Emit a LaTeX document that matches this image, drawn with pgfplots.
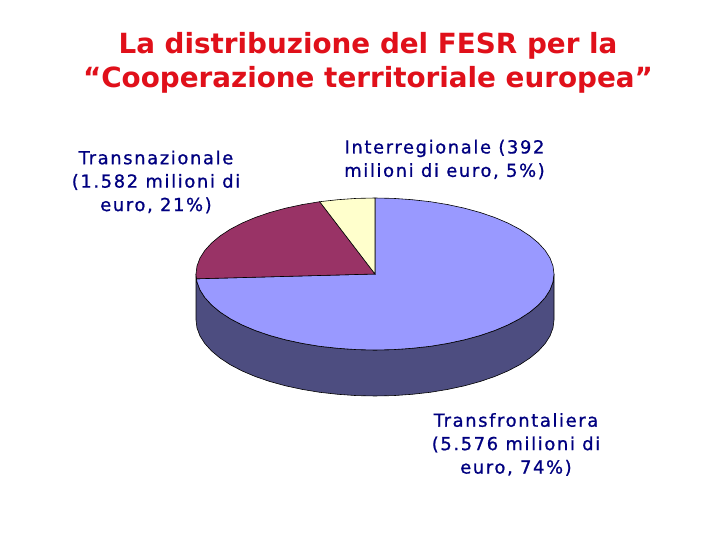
\documentclass[border=0pt]{standalone}
\usepackage{fontspec}
\setmainfont{DejaVu Sans}
\newfontfamily\labelfont[LetterSpace=9,FakeBold=0.9]{DejaVu Sans}
\usepackage{pgfplots}
\pgfplotsset{compat=1.18}
\definecolor{pieblue}{HTML}{9999FF}
\definecolor{piemaroon}{HTML}{993366}
\definecolor{pieyellow}{HTML}{FFFFCC}
\definecolor{pieside}{HTML}{4D4D80}
\definecolor{labelnavy}{HTML}{000080}
\definecolor{titlered}{HTML}{E0101A}
\begin{document}
\begin{tikzpicture}
\fill[white] (0,0) rectangle (720bp,540bp);
\begin{axis}[at={(0,0)},anchor=south west,scale only axis,width=720bp,height=540bp,
  xmin=0,xmax=720,ymin=0,ymax=540,hide axis,clip=false]
% side wall
\addplot[fill=pieside,draw=black,line width=0.6pt] coordinates {
(554,266)(553,258.1)(550.1,250.2)(545.2,242.5)(538.5,235.1)(530,228)(519.8,221.3)(508,215.1)(494.8,209.5)(480.2,204.5)(464.5,200.2)(447.8,196.6)(430.3,193.7)(412.2,191.7)(393.7,190.4)(375,190)(356.3,190.4)(337.8,191.7)(319.7,193.7)(302.2,196.6)(285.5,200.2)(269.8,204.5)(255.2,209.5)(242,215.1)(230.2,221.3)(220,228)(211.5,235.1)(204.8,242.5)(199.9,250.2)(197,258.1)(196,266)
(196,220)(197,212.1)(199.9,204.2)(204.8,196.5)(211.5,189.1)(220,182)(230.2,175.3)(242,169.1)(255.2,163.5)(269.8,158.5)(285.5,154.2)(302.2,150.6)(319.7,147.7)(337.8,145.7)(356.3,144.4)(375,144)(393.7,144.4)(412.2,145.7)(430.3,147.7)(447.8,150.6)(464.5,154.2)(480.2,158.5)(494.8,163.5)(508,169.1)(519.8,175.3)(530,182)(538.5,189.1)(545.2,196.5)(550.1,204.2)(553,212.1)(554,220)
} -- cycle;
% Transfrontaliera 74%
\addplot[fill=pieblue,draw=black,line width=0.6pt] coordinates {
(375,266)(375,342)(393.7,341.6)(412.2,340.3)(430.3,338.3)(447.8,335.4)(464.5,331.8)(480.2,327.5)(494.8,322.5)(508,316.9)(519.8,310.7)(530,304)(538.5,296.9)(545.2,289.5)(550.1,281.8)(553,273.9)(554,266)(553,258.1)(550.1,250.2)(545.2,242.5)(538.5,235.1)(530,228)(519.8,221.3)(508,215.1)(494.8,209.5)(480.2,204.5)(464.5,200.2)(447.8,196.6)(430.3,193.7)(412.2,191.7)(393.7,190.4)(375,190)(356.3,190.4)(337.8,191.7)(319.7,193.7)(302.2,196.6)(285.5,200.2)(269.8,204.5)(255.2,209.5)(242,215.1)(230.2,221.3)(220,228)(211.5,235.1)(204.8,242.5)(199.9,250.2)(197,258.1)(196.4,261.2)
} -- cycle;
% Transnazionale 21%
\addplot[fill=piemaroon,draw=black,line width=0.6pt] coordinates {
(375,266)(196.4,261.2)(196,266)(197,273.9)(199.9,281.8)(204.8,289.5)(211.5,296.9)(220,304)(230.2,310.7)(242,316.9)(255.2,322.5)(269.8,327.5)(285.5,331.8)(302.2,335.4)(319.7,338.3)
} -- cycle;
% Interregionale 5%
\addplot[fill=pieyellow,draw=black,line width=0.6pt] coordinates {
(375,266)(319.7,338.3)(337.8,340.3)(356.3,341.6)(375,342)
} -- cycle;
\node[text=titlered,align=center,font=\fontsize{27.9}{34}\selectfont\bfseries] at (axis cs:368,477.5) {La distribuzione del FESR per la\\“Cooperazione territoriale europea”};
\node[text=labelnavy,align=center,font=\labelfont\fontsize{18}{23.5}\selectfont] at (axis cs:156,358) {Transnazionale\\(1.582 milioni di\\euro, 21\%)};
\node[text=labelnavy,align=center,font=\labelfont\fontsize{18}{23.5}\selectfont] at (axis cs:444.5,380.5) {Interregionale (392\\milioni di euro, 5\%)};
\node[text=labelnavy,align=center,font=\labelfont\fontsize{18}{23.5}\selectfont] at (axis cs:516,95.5) {Transfrontaliera\\(5.576 milioni di\\euro, 74\%)};
\end{axis}
\end{tikzpicture}
\end{document}
